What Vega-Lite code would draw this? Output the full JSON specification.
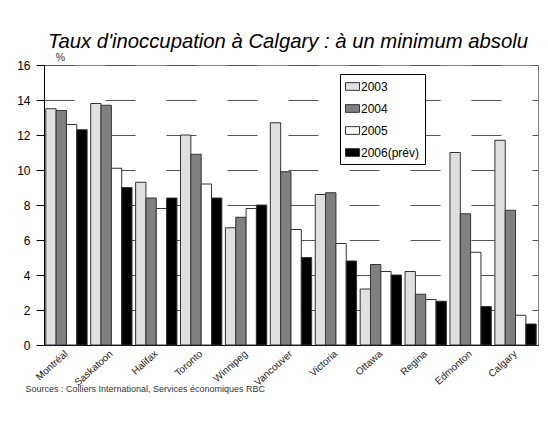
{
  "$schema": "https://vega.github.io/schema/vega-lite/v6.json",
  "width": 494,
  "height": 280,
  "autosize": {"type": "none"},
  "padding": {"left": 44, "top": 65, "right": 10, "bottom": 90},
  "background": "#ffffff",
  "config": {
    "font": "Liberation Sans",
    "view": {"stroke": "#808080", "strokeWidth": 1}
  },
  "title": {
    "text": "Taux d'inoccupation à Calgary : à un minimum absolu",
    "font": "Liberation Sans",
    "fontSize": 20.3,
    "fontStyle": "italic",
    "fontWeight": "normal",
    "color": "#000000",
    "anchor": "middle",
    "offset": 8,
    "dy": 8,
    "dx": -3
  },
  "data": {
    "values": [
      {"ville": "Montréal", "annee": "2003", "taux": 13.5},
      {"ville": "Montréal", "annee": "2004", "taux": 13.4},
      {"ville": "Montréal", "annee": "2005", "taux": 12.6},
      {"ville": "Montréal", "annee": "2006(prév)", "taux": 12.3},
      {"ville": "Saskatoon", "annee": "2003", "taux": 13.8},
      {"ville": "Saskatoon", "annee": "2004", "taux": 13.7},
      {"ville": "Saskatoon", "annee": "2005", "taux": 10.1},
      {"ville": "Saskatoon", "annee": "2006(prév)", "taux": 9.0},
      {"ville": "Halifax", "annee": "2003", "taux": 9.3},
      {"ville": "Halifax", "annee": "2004", "taux": 8.4},
      {"ville": "Halifax", "annee": "2005", "taux": 7.8},
      {"ville": "Halifax", "annee": "2006(prév)", "taux": 8.4},
      {"ville": "Toronto", "annee": "2003", "taux": 12.0},
      {"ville": "Toronto", "annee": "2004", "taux": 10.9},
      {"ville": "Toronto", "annee": "2005", "taux": 9.2},
      {"ville": "Toronto", "annee": "2006(prév)", "taux": 8.4},
      {"ville": "Winnipeg", "annee": "2003", "taux": 6.7},
      {"ville": "Winnipeg", "annee": "2004", "taux": 7.3},
      {"ville": "Winnipeg", "annee": "2005", "taux": 7.8},
      {"ville": "Winnipeg", "annee": "2006(prév)", "taux": 8.0},
      {"ville": "Vancouver", "annee": "2003", "taux": 12.7},
      {"ville": "Vancouver", "annee": "2004", "taux": 9.9},
      {"ville": "Vancouver", "annee": "2005", "taux": 6.6},
      {"ville": "Vancouver", "annee": "2006(prév)", "taux": 5.0},
      {"ville": "Victoria", "annee": "2003", "taux": 8.6},
      {"ville": "Victoria", "annee": "2004", "taux": 8.7},
      {"ville": "Victoria", "annee": "2005", "taux": 5.8},
      {"ville": "Victoria", "annee": "2006(prév)", "taux": 4.8},
      {"ville": "Ottawa", "annee": "2003", "taux": 3.2},
      {"ville": "Ottawa", "annee": "2004", "taux": 4.6},
      {"ville": "Ottawa", "annee": "2005", "taux": 4.2},
      {"ville": "Ottawa", "annee": "2006(prév)", "taux": 4.0},
      {"ville": "Regina", "annee": "2003", "taux": 4.2},
      {"ville": "Regina", "annee": "2004", "taux": 2.9},
      {"ville": "Regina", "annee": "2005", "taux": 2.6},
      {"ville": "Regina", "annee": "2006(prév)", "taux": 2.5},
      {"ville": "Edmonton", "annee": "2003", "taux": 11.0},
      {"ville": "Edmonton", "annee": "2004", "taux": 7.5},
      {"ville": "Edmonton", "annee": "2005", "taux": 5.3},
      {"ville": "Edmonton", "annee": "2006(prév)", "taux": 2.2},
      {"ville": "Calgary", "annee": "2003", "taux": 11.7},
      {"ville": "Calgary", "annee": "2004", "taux": 7.7},
      {"ville": "Calgary", "annee": "2005", "taux": 1.7},
      {"ville": "Calgary", "annee": "2006(prév)", "taux": 1.2}
    ]
  },
  "mark": {"type": "bar", "stroke": "#333333", "strokeWidth": 1},
  "encoding": {
    "x": {
      "field": "ville",
      "type": "nominal",
      "sort": null,
      "scale": {"paddingInner": 0.08, "paddingOuter": 0.04},
      "axis": {
        "labelAngle": -42,
        "labelAlign": "right",
        "labelBaseline": "middle",
        "labelFontSize": 10,
        "labelColor": "#222222",
        "labelPadding": 7,
        "labelOverlap": false,
        "ticks": false,
        "domainColor": "#000000",
        "title": "Sources : Colliers International, Services économiques RBC",
        "titleFontSize": 9,
        "titleFontWeight": "normal",
        "titleColor": "#333333",
        "titleAnchor": "start",
        "titleAlign": "left",
        "titleBaseline": "middle",
        "titleX": -19,
        "titleY": 43
      }
    },
    "xOffset": {
      "field": "annee",
      "type": "nominal",
      "scale": {"paddingInner": 0, "paddingOuter": 0}
    },
    "y": {
      "field": "taux",
      "type": "quantitative",
      "scale": {"domain": [0, 16], "nice": false},
      "axis": {
        "values": [0, 2, 4, 6, 8, 10, 12, 14, 16],
        "labelFontSize": 12,
        "labelColor": "#000000",
        "labelPadding": 6,
        "tickSize": 8,
        "tickColor": "#000000",
        "domainColor": "#000000",
        "grid": true,
        "gridColor": "#555555",
        "gridDash": [30, 31],
        "gridWidth": 1,
        "title": "%",
        "titleAngle": 0,
        "titleFontSize": 10.5,
        "titleFontWeight": "normal",
        "titleColor": "#333333",
        "titleAlign": "center",
        "titleBaseline": "bottom",
        "titleX": 16,
        "titleY": -3
      }
    },
    "fill": {
      "field": "annee",
      "type": "nominal",
      "scale": {
        "domain": ["2003", "2004", "2005", "2006(prév)"],
        "range": ["#e0e0e0", "#808080", "#ffffff", "#000000"]
      },
      "legend": {
        "orient": "none",
        "legendX": 296,
        "legendY": 9,
        "title": null,
        "strokeColor": "#000000",
        "padding": 5,
        "fillColor": "#ffffff",
        "symbolType": "M-1,-0.55L1,-0.55L1,0.55L-1,0.55Z",
        "symbolSize": 196,
        "symbolStrokeColor": "#333333",
        "symbolStrokeWidth": 1,
        "symbolOpacity": 1,
        "labelFontSize": 12,
        "labelColor": "#000000",
        "labelOffset": 1,
        "rowPadding": 8,
        "columnPadding": 8
      }
    }
  }
}
